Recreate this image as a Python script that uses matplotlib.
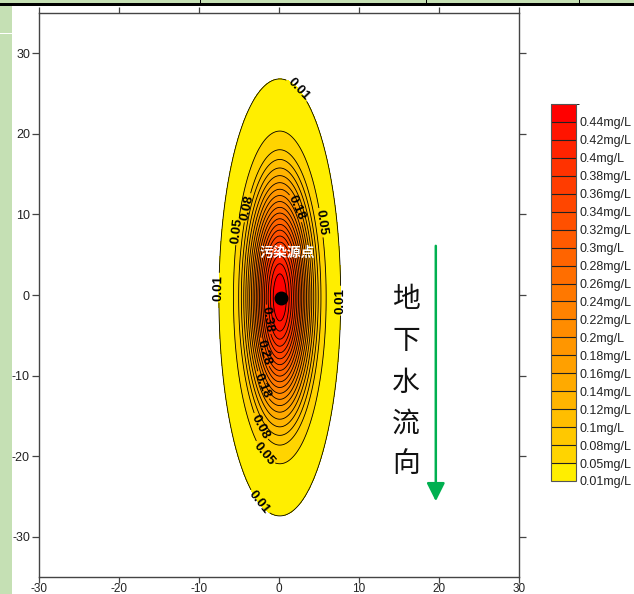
import numpy as np
import matplotlib
matplotlib.use("Agg")
import matplotlib.pyplot as plt
from matplotlib.colors import ListedColormap, BoundaryNorm
from matplotlib.patches import Rectangle
import matplotlib.cm as cm

plt.rcParams['font.family'] = ['Liberation Sans', 'DejaVu Sans']
plt.rcParams['axes.unicode_minus'] = False

# ---------------- data ----------------
levels = [0.01, 0.05, 0.08, 0.10, 0.12, 0.14, 0.16, 0.18, 0.20, 0.22, 0.24,
          0.26, 0.28, 0.30, 0.32, 0.34, 0.36, 0.38, 0.40, 0.42, 0.44]
level_labels = [f"{v:g}mg/L" for v in levels]
peak_conc = 0.46          # mg/L at the source
source_x = 0.1            # m
source_y = -0.3           # m
spread_x = 2.75           # plume spread across flow
spread_y = 9.8            # plume spread along flow
labelled_levels = [0.01, 0.05, 0.08, 0.18, 0.28, 0.38]
x_ticks = [-30, -20, -10, 0, 10, 20, 30]
y_ticks = [-30, -20, -10, 0, 10, 20, 30]
source_label = "污染源点"
flow_label = "地下水流向"

# ---------------- style ----------------
band_colors = ['#FFEE00', '#FFD400', '#FFC800', '#FFBE00', '#FFB400', '#FFAA00',
               '#FFA000', '#FF9600', '#FF8C00', '#FF8200', '#FF7800', '#FF6E00',
               '#FF6400', '#FF5A00', '#FF5000', '#FF4600', '#FF3C00', '#FF3200',
               '#FF2300', '#FF1400', '#FF0000']
strip_green = '#C5E0B4'
text_col = '#222222'

W, H = 634, 594
fig = plt.figure(figsize=(W / 100, H / 100), dpi=100)

# window decorations
fig.add_artist(Rectangle((0, 0), 12 / W, 1, transform=fig.transFigure,
                         color=strip_green, lw=0, zorder=0))
fig.add_artist(Rectangle((0, (H - 3) / H), 1, 3 / H, transform=fig.transFigure,
                         color=strip_green, lw=0, zorder=0))
fig.add_artist(Rectangle((0, (H - 6) / H), 1, 3 / H, transform=fig.transFigure,
                         color='black', lw=0, zorder=1))
for px in (200, 426, 579):
    fig.add_artist(Rectangle((px / W, (H - 4) / H), 1.2 / W, 4 / H,
                             transform=fig.transFigure, color='black', lw=0))
fig.add_artist(Rectangle((0, (H - 34) / H), 12 / W, 0.8 / H, transform=fig.transFigure,
                         color='white', lw=0, zorder=1))

ax = fig.add_axes([39 / W, 17 / H, 480 / W, 564 / H])

x = np.linspace(-30, 30, 601)
y = np.linspace(-35, 35, 701)
X, Y = np.meshgrid(x, y)
Z = peak_conc * np.exp(-((X - source_x) ** 2) / (2 * spread_x ** 2)
                       - ((Y - source_y) ** 2) / (2 * spread_y ** 2))

bounds = levels + [peak_conc + 0.01]
cmap = ListedColormap(band_colors)
norm = BoundaryNorm(bounds, cmap.N)

ax.contourf(X, Y, Z, levels=bounds, cmap=cmap, norm=norm, zorder=1)
plain_levels = [v for v in levels if v not in labelled_levels]
ax.contour(X, Y, Z, levels=plain_levels, colors='black', linewidths=0.6, zorder=2)

label_spots = {
    0.01: [(2.1, 25.3), (-6.9, 0.9), (7.1, -0.7), (-2.3, -25.6)],
    0.05: [(-5.0, 8.0), (4.7, 8.9), (-1.5, -19.4)],
    0.08: [(-3.8, 10.8), (-2.3, -16.3)],
    0.18: [(1.5, 10.5), (-1.5, -11.0)],
    0.28: [(-1.5, -7.0)],
    0.38: [(-1.2, -3.0)],
}
for lev in labelled_levels:
    cs_one = ax.contour(X, Y, Z, levels=[lev], colors='black', linewidths=0.6, zorder=2)
    lbl = cs_one.clabel(manual=label_spots[lev], inline=True, inline_spacing=2,
                        fmt=lambda v: f"{v:g}", fontsize=9.5, colors='black')
    for t in lbl:
        t.set_fontweight('bold')

# source point
ax.plot([source_x + 0.15], [source_y - 0.1], 'o', color='black', markersize=9, zorder=5)
ax.text(1.0, 5.2, source_label, color='white', fontsize=10, fontweight='bold',
        ha='center', va='center', family=['Noto Sans CJK SC', 'DejaVu Sans'], zorder=6)

# flow direction
char_y = [-0.5, -5.7, -10.9, -16.0, -21.0]
for ch, cy in zip(flow_label, char_y):
    ax.text(15.9, cy, ch, fontsize=20, ha='center', va='center', color='#111111',
            family=['Noto Sans CJK SC', 'DejaVu Sans'], zorder=6)
ax.annotate('', xy=(19.6, -25.6), xytext=(19.6, 6.1),
            arrowprops=dict(arrowstyle='-|>,head_length=1.1,head_width=0.55',
                            mutation_scale=10, color='#00B050', lw=1.8,
                            shrinkA=0, shrinkB=0), zorder=6)

ax.set_xlim(-30, 30)
ax.set_ylim(-35, 35)
ax.set_xticks(x_ticks)
ax.set_yticks(y_ticks)
ax.tick_params(direction='out', length=5, width=0.9, color='#444444',
               labelsize=9, labelcolor=text_col, top=True, right=True,
               labeltop=False, labelright=False, pad=1.5)
ax.tick_params(axis='x', length=4, pad=0.3, labelsize=8.5)
for s in ax.spines.values():
    s.set_color('#444444')
    s.set_linewidth(1.0)

# colorbar
cax = fig.add_axes([551 / W, (H - 481) / H, 25 / W, 377 / H])
sm = cm.ScalarMappable(norm=norm, cmap=cmap)
cb = fig.colorbar(sm, cax=cax, boundaries=bounds, spacing='uniform',
                  ticks=levels, drawedges=True)
cb.ax.set_yticklabels(level_labels)
cb.ax.tick_params(length=0, labelsize=9, labelcolor=text_col, pad=2.5)
cb.outline.set_edgecolor('#555555')
cb.outline.set_linewidth(0.8)
cb.dividers.set_color('#222222')
cb.dividers.set_linewidth(0.8)

fig.savefig('out.png', dpi=100)
